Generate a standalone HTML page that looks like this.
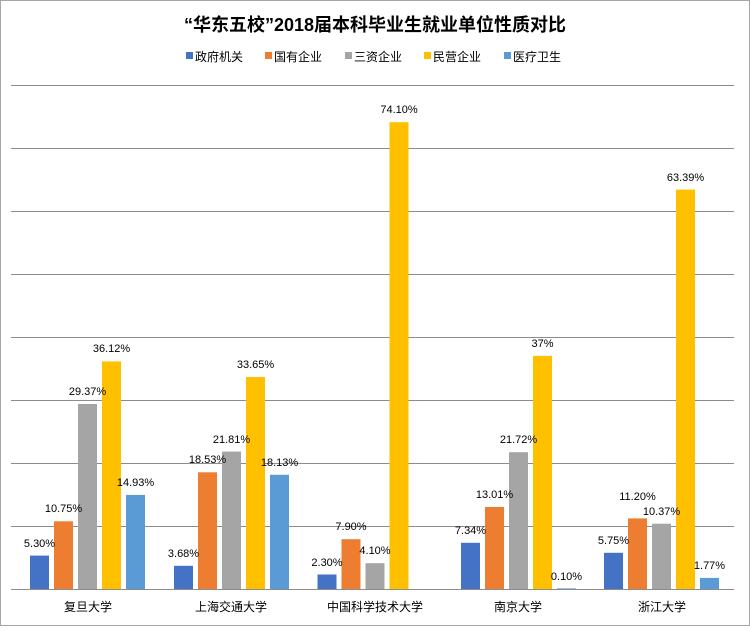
<!DOCTYPE html>
<html><head><meta charset="utf-8"><style>
body{margin:0;background:#fff}
</style></head><body>
<svg width="750" height="626" xmlns="http://www.w3.org/2000/svg" font-family="'Liberation Sans','Noto Sans CJK SC',sans-serif">
<rect x="0.5" y="0.5" width="749" height="625" fill="#fff" stroke="#a6a6a6"/>
<text x="375" y="31" text-anchor="middle" font-size="18" font-weight="bold" fill="#000">“华东五校”2018届本科毕业生就业单位性质对比</text>
<g font-size="12" fill="#000">
<rect x="186" y="52" width="7" height="7" fill="#4472c4"/><text x="195" y="61">政府机关</text>
<rect x="265" y="52" width="7" height="7" fill="#ed7d31"/><text x="274" y="61">国有企业</text>
<rect x="345" y="52" width="7" height="7" fill="#a5a5a5"/><text x="354" y="61">三资企业</text>
<rect x="424" y="52" width="7" height="7" fill="#ffc000"/><text x="433" y="61">民营企业</text>
<rect x="504" y="52" width="7" height="7" fill="#5b9bd5"/><text x="513" y="61">医疗卫生</text>
</g>
<g stroke="#8c8c8c" stroke-width="1">
<line x1="11" x2="734" y1="589.5" y2="589.5"/>
<line x1="11" x2="734" y1="526.5" y2="526.5"/>
<line x1="11" x2="734" y1="463.5" y2="463.5"/>
<line x1="11" x2="734" y1="400.5" y2="400.5"/>
<line x1="11" x2="734" y1="337.5" y2="337.5"/>
<line x1="11" x2="734" y1="274.5" y2="274.5"/>
<line x1="11" x2="734" y1="211.5" y2="211.5"/>
<line x1="11" x2="734" y1="148.5" y2="148.5"/>
<line x1="11" x2="734" y1="85.5" y2="85.5"/>
</g>
<g>
<rect x="30" y="555.6" width="19" height="33.4" fill="#4472c4"/>
<rect x="54" y="521.3" width="19" height="67.7" fill="#ed7d31"/>
<rect x="78" y="404" width="19" height="185" fill="#a5a5a5"/>
<rect x="102" y="361.4" width="19" height="227.6" fill="#ffc000"/>
<rect x="126" y="494.9" width="19" height="94.1" fill="#5b9bd5"/>

<rect x="174" y="565.8" width="19" height="23.2" fill="#4472c4"/>
<rect x="198" y="472.3" width="19" height="116.7" fill="#ed7d31"/>
<rect x="222" y="451.6" width="19" height="137.4" fill="#a5a5a5"/>
<rect x="246" y="377" width="19" height="212" fill="#ffc000"/>
<rect x="270" y="474.8" width="19" height="114.2" fill="#5b9bd5"/>

<rect x="317.5" y="574.5" width="19" height="14.5" fill="#4472c4"/>
<rect x="341.5" y="539.2" width="19" height="49.8" fill="#ed7d31"/>
<rect x="365.5" y="563.2" width="19" height="25.8" fill="#a5a5a5"/>
<rect x="389.5" y="122.2" width="19" height="466.8" fill="#ffc000"/>

<rect x="461" y="542.8" width="19" height="46.2" fill="#4472c4"/>
<rect x="485" y="507" width="19" height="82" fill="#ed7d31"/>
<rect x="509" y="452.2" width="19" height="136.8" fill="#a5a5a5"/>
<rect x="533" y="355.9" width="19" height="233.1" fill="#ffc000"/>
<rect x="557" y="588.4" width="19" height="0.6" fill="#5b9bd5"/>

<rect x="604" y="552.8" width="19" height="36.2" fill="#4472c4"/>
<rect x="628" y="518.4" width="19" height="70.6" fill="#ed7d31"/>
<rect x="652" y="523.7" width="19" height="65.3" fill="#a5a5a5"/>
<rect x="676" y="189.6" width="19" height="399.4" fill="#ffc000"/>
<rect x="700" y="577.9" width="19" height="11.1" fill="#5b9bd5"/>
</g>
<g font-size="11" text-anchor="middle" fill="#000">
<text x="39.5" y="547">5.30%</text>
<text x="63.5" y="512">10.75%</text>
<text x="87.5" y="395">29.37%</text>
<text x="111.5" y="352">36.12%</text>
<text x="135.5" y="486">14.93%</text>

<text x="183.5" y="557">3.68%</text>
<text x="207.5" y="463">18.53%</text>
<text x="231.5" y="443">21.81%</text>
<text x="255.5" y="368">33.65%</text>
<text x="279.5" y="466">18.13%</text>

<text x="327" y="566">2.30%</text>
<text x="351" y="530">7.90%</text>
<text x="375" y="554">4.10%</text>
<text x="399" y="113">74.10%</text>

<text x="470.5" y="534">7.34%</text>
<text x="494.5" y="498">13.01%</text>
<text x="518.5" y="443">21.72%</text>
<text x="542.5" y="347">37%</text>
<text x="566.5" y="580">0.10%</text>

<text x="613.5" y="544">5.75%</text>
<text x="637.5" y="500">11.20%</text>
<text x="661.5" y="515">10.37%</text>
<text x="685.5" y="181">63.39%</text>
<text x="709.5" y="569">1.77%</text>
</g>
<g font-size="12" fill="#000" text-anchor="middle">
<text x="88" y="611">复旦大学</text>
<text x="231" y="611">上海交通大学</text>
<text x="375" y="611">中国科学技术大学</text>
<text x="518" y="611">南京大学</text>
<text x="662" y="611">浙江大学</text>
</g>
</svg>
</body></html>
